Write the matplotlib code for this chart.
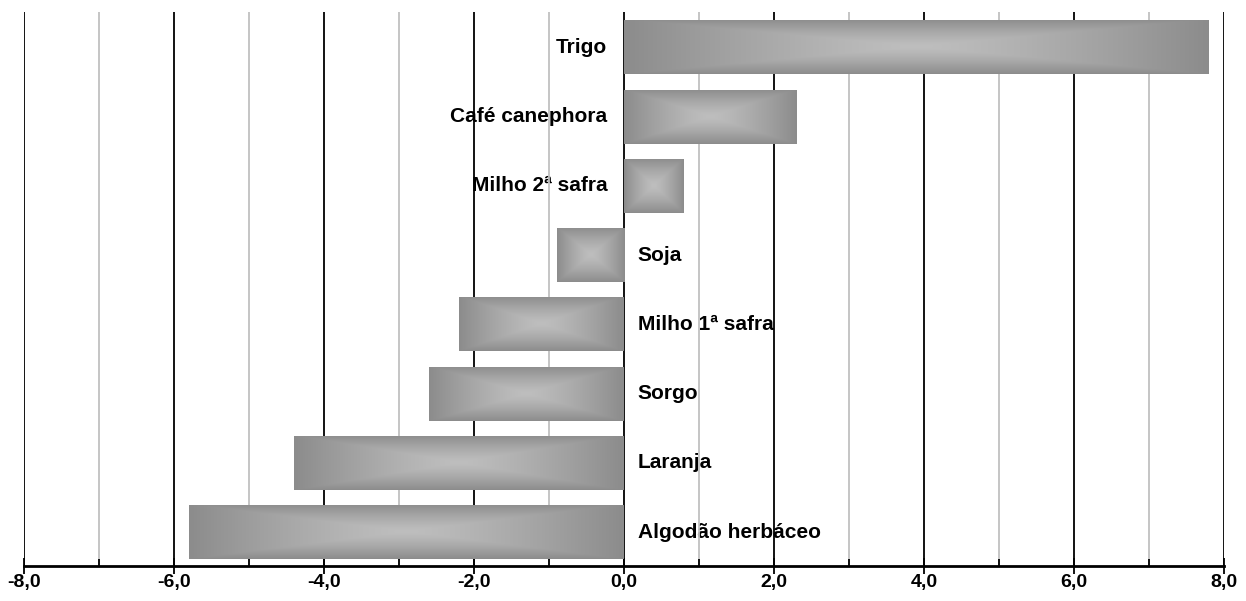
import numpy as np
import matplotlib
matplotlib.use("Agg")
import matplotlib.pyplot as plt
from matplotlib.colors import LinearSegmentedColormap

# Values (bottom to top)
categories = ["Algodão herbáceo", "Laranja", "Sorgo", "Milho 1ª safra",
              "Soja", "Milho 2ª safra", "Café canephora", "Trigo"]
values = [-5.8, -4.4, -2.6, -2.2, -0.9, 0.8, 2.3, 7.8]
tick_values = [-8, -6, -4, -2, 0, 2, 4, 6, 8]
tick_labels = ["-8,0", "-6,0", "-4,0", "-2,0", "0,0", "2,0", "4,0", "6,0", "8,0"]

plt.rcParams["font.family"] = ["Liberation Sans", "DejaVu Sans"]
plt.rcParams["font.weight"] = "bold"

fig = plt.figure(figsize=(12.46, 6.01), dpi=100)
ax = fig.add_axes([24 / 1246, 35 / 601, 1200 / 1246, 554 / 601])

# grey rectangular gradient (dark edges, light centre)
grad_cmap = LinearSegmentedColormap.from_list("bar", ["#bebebe", "#8c8c8c"])
n = 200
u = np.linspace(-1, 1, n)
uu, vv = np.meshgrid(u, u)
grad = np.maximum(np.abs(uu), np.abs(vv)) ** 1.3

y = np.arange(len(categories))
bars = ax.barh(y, values, height=0.78, color="none", edgecolor="none", zorder=3)
for b in bars:
    x0, y0 = b.get_x(), b.get_y()
    w, h = b.get_width(), b.get_height()
    im = ax.imshow(grad, cmap=grad_cmap, vmin=0, vmax=1, aspect="auto",
                   extent=[x0, x0 + w, y0, y0 + h], interpolation="bilinear",
                   zorder=3)
    im.set_clip_path(b)

# category labels sit under the grid lines, next to the zero line
for yi, v, name in zip(y, values, categories):
    if v > 0:
        ax.text(-0.22, yi, name, ha="right", va="center", fontsize=15,
                fontweight="bold", zorder=0.5)
    else:
        ax.text(0.18, yi, name, ha="left", va="center", fontsize=15,
                fontweight="bold", zorder=0.5)

ax.set_xlim(-8, 8)
ax.set_ylim(-0.49, 7.51)
ax.set_xticks(tick_values)
ax.set_xticklabels(tick_labels, fontsize=14, fontweight="bold")
ax.set_xticks(np.arange(-7, 8, 2), minor=True)
ax.set_yticks([])

ax.grid(axis="x", which="major", color="black", linewidth=1.3, zorder=1)
ax.grid(axis="x", which="minor", color="#c0c0c0", linewidth=1.3, zorder=1)
for gl in ax.get_xgridlines():
    gl.set_zorder(1)
ax.tick_params(axis="x", which="major", direction="inout", length=12, width=1.3, pad=0)
ax.tick_params(axis="x", which="minor", direction="in", length=5, width=1.3)

for side in ["top", "right", "left"]:
    ax.spines[side].set_visible(False)
ax.spines["bottom"].set_linewidth(2)
ax.spines["bottom"].set_zorder(4)

fig.savefig("out.png", dpi=100)
